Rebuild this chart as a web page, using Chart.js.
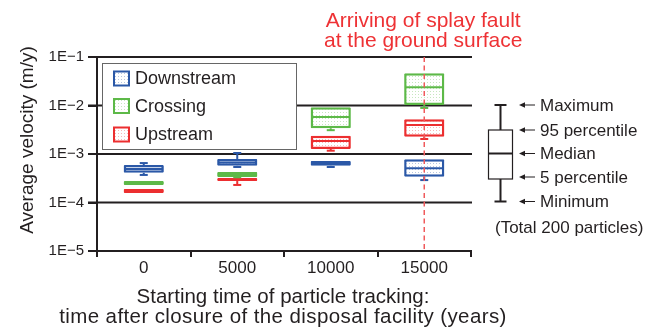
<!DOCTYPE html>
<html>
<head>
<meta charset="utf-8">
<script src="https://cdn.jsdelivr.net/npm/chart.js@4.4.1/dist/chart.umd.min.js"></script>
<style>
html,body{margin:0;padding:0;background:#fff;}
</style>
</head>
<body>
<canvas id="boxChart" width="662" height="329"></canvas>
<script>
const categories = ["0", "5000", "10000", "15000"];
const seriesNames = ["Downstream", "Crossing", "Upstream"];
const seriesColors = ["#2b58a7", "#5db948", "#ec2f30"];
const yTickValues = [1e-5, 1e-4, 1e-3, 1e-2, 1e-1];
const yTickLabels = ["1E\u22125", "1E\u22124", "1E\u22123", "1E\u22122", "1E\u22121"];

// Downstream
const downMin = [3.7e-4, 5.4e-4, 5.4e-4, 2.9e-4];
const downP5  = [4.1e-4, 5.7e-4, 5.7e-4, 3.4e-4];
const downMed = [4.9e-4, 6.7e-4, 6.4e-4, 5.1e-4];
const downP95 = [5.9e-4, 7.9e-4, 7.2e-4, 7.8e-4];
const downMax = [6.5e-4, 1.05e-3, 7.4e-4, 7.9e-4];
// Crossing
const crossMin = [2.2e-4, 3.2e-4, 3.1e-3, 8.9e-3];
const crossP5  = [2.3e-4, 3.36e-4, 3.4e-3, 1.02e-2];
const crossMed = [2.5e-4, 3.8e-4, 5.8e-3, 2.37e-2];
const crossP95 = [2.77e-4, 4.26e-4, 9.2e-3, 4.6e-2];
const crossMax = [2.9e-4, 4.4e-4, 9.3e-3, 4.7e-2];
// Upstream
const upMin = [1.5e-4, 2.3e-4, 1.17e-3, 2.04e-3];
const upP5  = [1.57e-4, 2.77e-4, 1.27e-3, 2.27e-3];
const upMed = [1.73e-4, 3.0e-4, 1.85e-3, 3.96e-3];
const upP95 = [1.9e-4, 3.2e-4, 2.38e-3, 5.19e-3];
const upMax = [1.95e-4, 3.3e-4, 2.4e-3, 5.3e-3];

const faultCategory = "15000";
const faultText = ["Arriving of splay fault", "at the ground surface"];
const keyLabels = ["Maximum", "95 percentile", "Median", "5 percentile", "Minimum"];
const keyNote = "(Total 200 particles)";
const yTitle = "Average velocity (m/y)";
const xTitle = ["Starting time of particle tracking:", "time after closure of the disposal facility (years)"];

const stats = [
  {min: downMin, p5: downP5, med: downMed, p95: downP95, max: downMax},
  {min: crossMin, p5: crossP5, med: crossMed, p95: crossP95, max: crossMax},
  {min: upMin, p5: upP5, med: upMed, p95: upP95, max: upMax}
];

const ink = "#231f20";
const FONT = "'Liberation Sans', Arial, sans-serif";

function hexRgb(h){
  return [1,3,5].map(i => parseInt(h.substr(i,2),16)).join(",");
}

function dotPattern(color){
  const c = document.createElement("canvas");
  c.width = 3; c.height = 3;
  const g = c.getContext("2d");
  g.fillStyle = "#fff";
  g.fillRect(0,0,3,3);
  g.fillStyle = "rgba(" + hexRgb(color) + ",0.35)";
  g.fillRect(1,1,1,1);
  return g.createPattern(c, "repeat");
}

const fills = seriesColors.map(dotPattern);

function line(ctx, x0, y0, x1, y1){
  ctx.beginPath();
  ctx.moveTo(x0, y0);
  ctx.lineTo(x1, y1);
  ctx.stroke();
}

const overlay = {
  id: "overlay",
  beforeDatasetsDraw(chart){
    const {ctx, chartArea: a, scales: {y}} = chart;
    ctx.save();
    ctx.strokeStyle = ink;
    ctx.lineWidth = 2;
    yTickValues.slice(1).forEach(v => {
      const py = y.getPixelForValue(v);
      line(ctx, a.left - 9, py, a.right + 1, py);
    });
    // axis titles
    ctx.fillStyle = ink;
    ctx.font = "20.5px " + FONT;
    ctx.textAlign = "center";
    ctx.textBaseline = "middle";
    ctx.fillText(xTitle[0], 283, 297);
    ctx.letterSpacing = "0.4px";
    ctx.fillText(xTitle[1], 283, 317);
    ctx.letterSpacing = "0px";
    ctx.font = "19px " + FONT;
    ctx.translate(28, 140);
    ctx.rotate(-Math.PI / 2);
    ctx.fillText(yTitle, 0, 0);
    ctx.restore();
  },
  afterDatasetsDraw(chart){
    const {ctx, chartArea: a, scales: {x, y}} = chart;
    ctx.save();

    // whiskers and medians
    stats.forEach((s, di) => {
      const meta = chart.getDatasetMeta(di);
      ctx.strokeStyle = seriesColors[di];
      ctx.lineWidth = 2;
      meta.data.forEach((bar, i) => {
        const bx = bar.x, hw = bar.width / 2;
        const yMax = y.getPixelForValue(s.max[i]);
        const yP95 = y.getPixelForValue(s.p95[i]);
        const yP5 = y.getPixelForValue(s.p5[i]);
        const yMin = y.getPixelForValue(s.min[i]);
        const yMed = y.getPixelForValue(s.med[i]);
        if (yP95 - yMax > 1){
          line(ctx, bx, yP95, bx, yMax);
          line(ctx, bx - 4, yMax, bx + 4, yMax);
        }
        if (yMin - yP5 > 1){
          line(ctx, bx, yP5, bx, yMin);
          line(ctx, bx - 4, yMin, bx + 4, yMin);
        }
        line(ctx, bx - hw + 1, yMed, bx + hw - 1, yMed);
      });
    });

    // fault line
    const fx = x.getPixelForValue(categories.indexOf(faultCategory));
    ctx.strokeStyle = "#f05a5c";
    ctx.lineWidth = 1.5;
    ctx.setLineDash([5, 3.5]);
    line(ctx, fx, a.top, fx, a.bottom);
    ctx.setLineDash([]);
    ctx.fillStyle = "#ee3235";
    ctx.font = "21px " + FONT;
    ctx.textAlign = "center";
    ctx.textBaseline = "alphabetic";
    ctx.fillText(faultText[0], fx - 1, 27);
    ctx.fillText(faultText[1], fx - 1, 47);

    // series legend
    ctx.fillStyle = "#fff";
    ctx.fillRect(102.5, 63.5, 194, 86);
    ctx.strokeStyle = "#666";
    ctx.lineWidth = 1;
    ctx.strokeRect(102.5, 63.5, 194, 86);
    const rows = [78.5, 106, 134.5];
    seriesNames.forEach((n, i) => {
      ctx.fillStyle = fills[i];
      ctx.fillRect(114, rows[i] - 7, 15, 14);
      ctx.strokeStyle = seriesColors[i];
      ctx.lineWidth = 2;
      ctx.strokeRect(114, rows[i] - 7, 15, 14);
      ctx.fillStyle = ink;
      ctx.font = "18px " + FONT;
      ctx.textAlign = "left";
      ctx.textBaseline = "middle";
      ctx.fillText(n, 135, rows[i] + 1);
    });

    // box key
    const kx = 500.5, kt = 130, kb = 179, km = 153.5, kmax = 105, kmin = 201.5;
    ctx.strokeStyle = ink;
    ctx.lineWidth = 2;
    line(ctx, kx, kmax, kx, kt);
    line(ctx, kx, kb, kx, kmin);
    line(ctx, kx - 6, kmax, kx + 6, kmax);
    line(ctx, kx - 6, kmin, kx + 6, kmin);
    ctx.lineWidth = 1.2;
    ctx.strokeRect(488.5, kt, 24, kb - kt);
    ctx.lineWidth = 2;
    line(ctx, 488.5, km, 512.5, km);
    const ky = [kmax, kt, km, 177, kmin];
    ctx.font = "17px " + FONT;
    ctx.textAlign = "left";
    ctx.textBaseline = "middle";
    keyLabels.forEach((t, i) => {
      ctx.lineWidth = 1;
      ctx.fillStyle = ink;
      line(ctx, 523, ky[i], 535, ky[i]);
      ctx.beginPath();
      ctx.moveTo(519, ky[i]);
      ctx.lineTo(525, ky[i] - 2.8);
      ctx.lineTo(525, ky[i] + 2.8);
      ctx.closePath();
      ctx.fill();
      ctx.fillText(t, 540, ky[i] + 1);
    });
    ctx.fillText(keyNote, 495, 228);

    ctx.restore();
  }
};

new Chart(document.getElementById("boxChart"), {
  type: "bar",
  data: {
    labels: categories,
    datasets: seriesNames.map((n, i) => ({
      label: n,
      data: stats[i].p5.map((v, j) => [v, stats[i].p95[j]]),
      backgroundColor: fills[i],
      borderColor: seriesColors[i],
      borderWidth: 2.5,
      borderSkipped: false,
      borderRadius: 1,
      grouped: false,
      categoryPercentage: 1,
      barPercentage: 0.43
    }))
  },
  options: {
    responsive: false,
    animation: false,
    layout: {padding: {top: 57, right: 191, left: 0, bottom: 0}},
    plugins: {legend: {display: false}, tooltip: {enabled: false}, title: {display: false}},
    scales: {
      x: {
        type: "category",
        offset: true,
        grid: {offset: true, drawOnChartArea: false, drawTicks: true, tickLength: 6, color: ink, lineWidth: 2},
        border: {display: true, color: ink, width: 2},
        ticks: {color: ink, font: {family: FONT, size: 17}, padding: 1, maxRotation: 0},
        title: {display: false},
        afterFit: s => { s.height = 78; }
      },
      y: {
        type: "logarithmic",
        min: 1e-5,
        max: 1e-1,
        afterBuildTicks: s => { s.ticks = yTickValues.map(v => ({value: v})); },
        grid: {drawOnChartArea: false, drawTicks: true, tickLength: 9, color: ink, lineWidth: 2},
        border: {display: true, color: ink, width: 2},
        ticks: {
          color: ink,
          font: {family: FONT, size: 15},
          padding: 4,
          callback: (v, i) => yTickLabels[i]
        },
        title: {display: false},
        afterFit: s => { s.width = 97; }
      }
    }
  },
  plugins: [overlay]
});
</script>
</body>
</html>
